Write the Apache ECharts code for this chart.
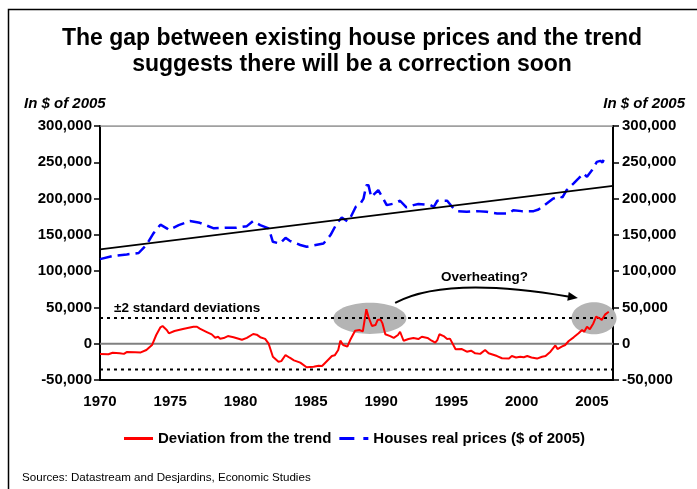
<!DOCTYPE html>
<html><head><meta charset="utf-8">
<script src="https://cdn.jsdelivr.net/npm/echarts/dist/echarts.min.js"></script>
<style>html,body{margin:0;padding:0;background:#fff}#c{width:697px;height:489px}</style>
</head><body><div id="c"></div>
<script>
// ---- data ----
const devYears = [1970.0,1970.6,1970.9,1971.4,1971.7,1971.9,1972.5,1972.9,1973.3,1973.7,1974.0,1974.3,1974.45,1974.75,1974.9,1975.3,1975.9,1976.65,1976.9,1977.1,1977.6,1977.95,1978.2,1978.4,1978.55,1978.8,1979.1,1979.5,1980.1,1980.45,1980.9,1981.15,1981.4,1981.75,1982.0,1982.3,1982.7,1982.9,1983.2,1983.5,1983.8,1984.25,1984.7,1985.2,1985.55,1985.8,1986.1,1986.5,1986.7,1986.95,1987.1,1987.3,1987.6,1987.8,1988.15,1988.45,1988.7,1988.95,1989.1,1989.35,1989.6,1989.75,1989.95,1990.1,1990.3,1990.65,1990.9,1991.2,1991.35,1991.6,1991.95,1992.3,1992.65,1992.9,1993.3,1993.6,1993.85,1994.0,1994.15,1994.45,1994.7,1994.9,1995.3,1995.75,1996.1,1996.4,1996.7,1997.05,1997.4,1997.65,1998.25,1998.6,1999.1,1999.3,1999.6,1999.9,2000.15,2000.4,2000.7,2001.1,2001.45,2001.7,2002.05,2002.4,2002.55,2002.85,2003.1,2003.35,2003.7,2004.05,2004.3,2004.45,2004.65,2004.85,2005.1,2005.3,2005.55,2005.7,2005.95,2006.2];
const devValues = [-14200,-14600,-12400,-13000,-14000,-11500,-11800,-12000,-8700,-1800,12000,22600,24400,18900,14300,17500,20200,23400,23400,20700,16100,12900,8300,9600,6900,7800,10500,9000,5500,8000,13400,12500,9000,6600,0,-17900,-24800,-24000,-15600,-19300,-22900,-26100,-32500,-31600,-30300,-30700,-24800,-16900,-16000,-8700,4200,-1800,-4100,5100,17900,18900,17000,47500,37000,24400,25700,32600,33500,28000,13000,10500,8000,12000,16500,4100,6400,8000,6400,9600,8000,4100,1400,5000,13000,10500,6400,7000,-7700,-7300,-11000,-9600,-13200,-14000,-8700,-13200,-17000,-20000,-20500,-17000,-19000,-17900,-18700,-17000,-19000,-20500,-17900,-17000,-11000,-2300,-7300,-4000,-1800,3700,8800,14300,18900,16500,23400,20000,28000,37200,35000,32600,40500,44000];

const priceYears = [1970.0,1970.95,1971.9,1972.75,1973.3,1973.8,1974.3,1974.75,1974.9,1975.6,1976.4,1977.1,1978.1,1978.9,1979.7,1980.45,1980.9,1981.4,1982.0,1982.3,1982.8,1983.2,1983.5,1984.25,1984.7,1985.9,1986.4,1986.85,1987.2,1987.6,1987.8,1988.2,1988.5,1988.75,1988.95,1989.1,1989.3,1989.8,1990.15,1990.4,1990.9,1991.35,1991.8,1992.3,1992.65,1993.5,1993.75,1994.0,1994.7,1995.05,1995.4,1996.1,1996.8,1997.5,1998.25,1999.1,1999.4,2000.0,2000.85,2001.2,2001.55,2002.25,2002.65,2002.9,2003.2,2003.7,2004.05,2004.4,2004.65,2005.0,2005.35,2005.6,2005.75,2005.95];
const priceValues = [116600,121000,123000,125000,136000,152000,164000,159000,156600,163400,169000,166600,159000,159700,159700,162000,169000,163400,159000,140500,138000,146000,141800,136000,133600,138000,149700,165800,174000,168500,173000,188700,192000,200000,218500,218500,202000,211600,200000,191000,193000,197000,187800,191000,192400,191000,188700,197000,197000,188700,182700,181800,182700,181800,179500,179500,184000,182700,182700,185000,189600,200000,203000,201600,211600,220900,227700,234600,230000,239000,250600,252000,249800,257500];

const trendYears = [1970, 2006.5];
const trendValues = [130000, 217500];
const bandLimit = 35500;           // ±2 standard deviations
const xTickLabels = [1970,1975,1980,1985,1990,1995,2000,2005];
const yMin = -50000, yMax = 300000, yStep = 50000;
const xMin = 1970, xMax = 2006.5;

const seriesNames = ['Deviation from the trend', 'Houses real prices ($ of 2005)'];
const titleLines = ['The gap between existing house prices and the trend', 'suggests there will be a correction soon'];
const unitLabel = 'In $ of 2005';
const sourceText = 'Sources: Datastream and Desjardins, Economic Studies';
const bandText = '\u00b12 standard deviations';
const noteText = 'Overheating?';

// annotation anchors (data units)
const highlightAreas = [
  {year: 1989.2, value: 35000, halfYears: 2.6, halfValue: 21600},
  {year: 2005.15, value: 35000, halfYears: 1.6, halfValue: 22000}
];
const arrowPath = {from: [1991.0, 56300], peak: [1996.05, 76700], to: [2004.0, 62900]};
const bandTextAt = [1971.0, 49500];
const noteTextAt = [1997.35, 91400];

// ---- chart ----
const F = '"Liberation Sans", Arial, Helvetica, sans-serif';
const pairs = (xs, ys) => xs.map((x, i) => [x, ys[i]]);
const chart = echarts.init(document.getElementById('c'), null, {renderer: 'canvas'});

const yAxisBase = {
  type: 'value', min: yMin, max: yMax, interval: yStep,
  axisLine: {show: true, lineStyle: {color: '#000', width: 2}},
  axisTick: {show: true, length: 6, lineStyle: {color: '#000', width: 1.5}},
  splitLine: {show: false},
  axisLabel: {color: '#000', fontSize: 15, fontWeight: 'bold', fontFamily: F, margin: 8,
    formatter: v => v.toLocaleString('en-US')}
};

const hLine = (name, val, color, width, type, z) => ({
  name, type: 'line', data: [[xMin, val], [xMax, val]], symbol: 'none', silent: true,
  lineStyle: {color, width, type}, z, animation: false
});

const option = {
  animation: false,
  backgroundColor: '#fff',
  grid: {left: 100, right: 84, top: 126, bottom: 109},
  xAxis: {
    type: 'value', min: xMin, max: xMax, interval: 5,
    axisLine: {onZero: false, lineStyle: {color: '#000', width: 2}},
    axisTick: {show: false}, splitLine: {show: false},
    axisLabel: {color: '#000', fontSize: 15, fontWeight: 'bold', fontFamily: F, margin: 14,
      showMaxLabel: false, formatter: v => xTickLabels.includes(v) ? String(v) : ''}
  },
  yAxis: [Object.assign({position: 'left'}, yAxisBase), Object.assign({position: 'right'}, yAxisBase,
    {axisLabel: Object.assign({}, yAxisBase.axisLabel, {margin: 9})})],
  legend: {
    data: [
      {name: seriesNames[0], icon: 'path://M0,0H29V3H0Z'},
      {name: seriesNames[1], icon: 'path://M0,0H15V3H0ZM24,0H29V3H24Z'}
    ],
    left: 119, top: 426, itemWidth: 29, itemHeight: 3, itemGap: 8, symbolKeepAspect: false,
    textStyle: {color: '#000', fontSize: 15, fontWeight: 'bold', fontFamily: F}
  },
  series: [
    hLine('top', yMax, '#808080', 1.5, 'solid', 1),
    hLine('zero', 0, '#808080', 2, 'solid', 2),
    hLine('upper', bandLimit, '#000', 2, [3, 4], 3),
    hLine('lower', -bandLimit, '#000', 2, [3, 4], 3),
    {name: seriesNames[0], type: 'line', data: pairs(devYears, devValues), symbol: 'none',
      lineStyle: {color: '#ff0000', width: 2}, itemStyle: {color: '#ff0000'}, z: 4},
    {name: seriesNames[1], type: 'line', data: pairs(priceYears, priceValues), symbol: 'none',
      lineStyle: {color: '#0000ff', width: 2.5, type: [12, 6]}, itemStyle: {color: '#0000ff'}, z: 5},
    {name: 'trend', type: 'line', data: pairs(trendYears, trendValues), symbol: 'none',
      lineStyle: {color: '#000', width: 1.6}, z: 6}
  ]
};
chart.setOption(option);

function px(p) { return chart.convertToPixel({xAxisIndex: 0, yAxisIndex: 0}, p); }

function buildGraphics() {
  const g = [];
  g.push({type: 'rect', shape: {x: 8.5, y: 9.5, width: 800, height: 600},
    style: {fill: 'none', stroke: '#000', lineWidth: 1.5}, silent: true, z: 0});
  g.push({type: 'text', x: 352, y: 39, style: {text: titleLines[0], font: 'bold 23px ' + F, fill: '#000',
    textAlign: 'center', textVerticalAlign: 'middle'}, z: 10});
  g.push({type: 'text', x: 352, y: 65, style: {text: titleLines[1], font: 'bold 23px ' + F, fill: '#000',
    textAlign: 'center', textVerticalAlign: 'middle'}, z: 10});
  g.push({type: 'text', x: 24, y: 104, style: {text: unitLabel, font: 'italic bold 15px ' + F, fill: '#000',
    textAlign: 'left', textVerticalAlign: 'middle'}, z: 10});
  g.push({type: 'text', x: 685, y: 104, style: {text: unitLabel, font: 'italic bold 15px ' + F, fill: '#000',
    textAlign: 'right', textVerticalAlign: 'middle'}, z: 10});
  g.push({type: 'text', x: 22, y: 478, style: {text: sourceText, font: '11.6px ' + F, fill: '#000',
    textAlign: 'left', textVerticalAlign: 'middle'}, z: 10});
  highlightAreas.forEach(a => {
    const c = px([a.year, a.value]);
    const e = px([a.year + a.halfYears, a.value + a.halfValue]);
    g.push({type: 'ellipse', shape: {cx: c[0], cy: c[1], rx: Math.abs(e[0] - c[0]), ry: Math.abs(c[1] - e[1])},
      style: {fill: '#b4b4b4'}, silent: true, z: 1});
  });
  const b = px(bandTextAt);
  g.push({type: 'text', x: b[0], y: b[1], style: {text: bandText, font: 'bold 13.5px ' + F, fill: '#000',
    textAlign: 'left', textVerticalAlign: 'middle'}, z: 10});
  const n = px(noteTextAt);
  g.push({type: 'text', x: n[0], y: n[1], style: {text: noteText, font: 'bold 13.5px ' + F, fill: '#000',
    textAlign: 'center', textVerticalAlign: 'middle'}, z: 10});
  // arrow
  const S = px(arrowPath.from), P = px(arrowPath.peak), E = px(arrowPath.to);
  const C = [2 * P[0] - (S[0] + E[0]) / 2, 2 * P[1] - (S[1] + E[1]) / 2];
  let dx = E[0] - C[0], dy = E[1] - C[1];
  const L = Math.hypot(dx, dy); dx /= L; dy /= L;
  const hl = 10, hw = 4.5;
  const base = [E[0] - dx * hl, E[1] - dy * hl];
  g.push({type: 'bezierCurve', shape: {x1: S[0], y1: S[1], cpx1: C[0], cpy1: C[1], x2: base[0], y2: base[1]},
    style: {stroke: '#000', lineWidth: 2, fill: 'none'}, silent: true, z: 10});
  g.push({type: 'polygon', shape: {points: [E, [base[0] - dy * hw, base[1] + dx * hw], [base[0] + dy * hw, base[1] - dx * hw]]},
    style: {fill: '#000'}, silent: true, z: 10});
  return g;
}
chart.setOption({graphic: buildGraphics()});
</script>
</body></html>
